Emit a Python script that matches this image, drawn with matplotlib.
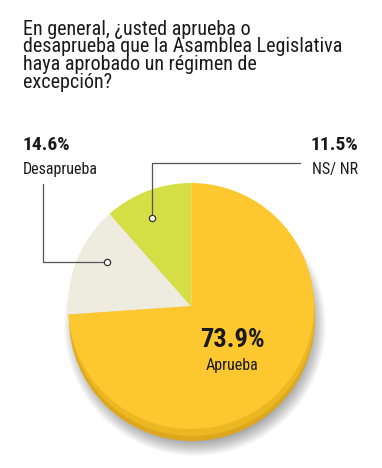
import numpy as np
import matplotlib.pyplot as plt
from matplotlib.patches import Circle

labels = ["Aprueba", "Desaprueba", "NS/ NR"]
values = [73.9, 14.6, 11.5]
colors = ["#FDC82F", "#EEEBDF", "#D4DF45"]

W, H = 382, 468
FONT = ["Roboto Condensed", "Roboto", "DejaVu Sans"]

fig = plt.figure(figsize=(W / 100, H / 100), dpi=100)
ax = fig.add_axes([0, 0, 1, 1])

def Y(y):
    return H - y

cx, cy, r = 191, 306, 123

# soft shadow under the disc
for k in range(16):
    ax.add_patch(Circle((cx + 4, Y(cy + 19)), r + 8 - k, color="#000000",
                        alpha=0.025, lw=0, zorder=1))
# rim of the disc
ax.add_patch(Circle((cx + 1, Y(cy + 12)), r, color="#DDA91A", lw=0, zorder=2))
ax.add_patch(Circle((cx + 1, Y(cy + 7)), r, color="#EBB823", lw=0, zorder=2))

ax.pie(values, colors=colors, startangle=90, counterclock=False,
       center=(cx, Y(cy)), radius=r, frame=True,
       wedgeprops=dict(linewidth=0, zorder=3))
ax.set_xlim(0, W)
ax.set_ylim(0, H)
ax.set_aspect("equal")
ax.axis("off")
ax.plot([cx, cx], [Y(cy - r), Y(cy)], color="#ffffff", lw=0.6, ls=(0, (1, 1.5)),
        alpha=0.6, zorder=4)

title = ("En general, ¿usted aprueba o\n"
         "desaprueba que la Asamblea Legislativa\n"
         "haya aprobado un régimen de\n"
         "excepción?")
ax.text(23, Y(20), title, family=FONT, fontsize=14.5, color="#1a1a1a",
        va="top", ha="left", linespacing=0.9)

# Desaprueba label and leader
ax.text(23, Y(150), f"{values[1]}%", family=FONT, fontsize=14, weight="bold",
        color="#1a1a1a", va="baseline", ha="left")
ax.text(23, Y(174), labels[1], family=FONT, fontsize=11.5, color="#1a1a1a",
        va="baseline", ha="left")
ax.plot([43, 43, 107], [Y(184), Y(262), Y(262)], color="#555555", lw=0.9, zorder=5)
ax.plot(107, Y(262), "o", ms=4.5, mfc="white", mec="#333333", mew=0.9, zorder=6)

# NS/NR label and leader
ax.text(358, Y(150), f"{values[2]}%", family=FONT, fontsize=14, weight="bold",
        color="#1a1a1a", va="baseline", ha="right")
ax.text(358, Y(174), labels[2], family=FONT, fontsize=11.5, color="#1a1a1a",
        va="baseline", ha="right")
ax.plot([300, 152, 152], [Y(163), Y(163), Y(218)], color="#555555", lw=0.9, zorder=5)
ax.plot(152, Y(218), "o", ms=4.5, mfc="white", mec="#333333", mew=0.9, zorder=6)

# Aprueba label
ax.text(232, Y(347), f"{values[0]}%", family=FONT, fontsize=19, weight="heavy",
        color="#1a1a1a", va="baseline", ha="center", zorder=6)
ax.text(232, Y(370), labels[0], family=FONT, fontsize=11.5, color="#1a1a1a",
        va="baseline", ha="center", zorder=6)

fig.savefig("out.png", dpi=100, facecolor="white")
